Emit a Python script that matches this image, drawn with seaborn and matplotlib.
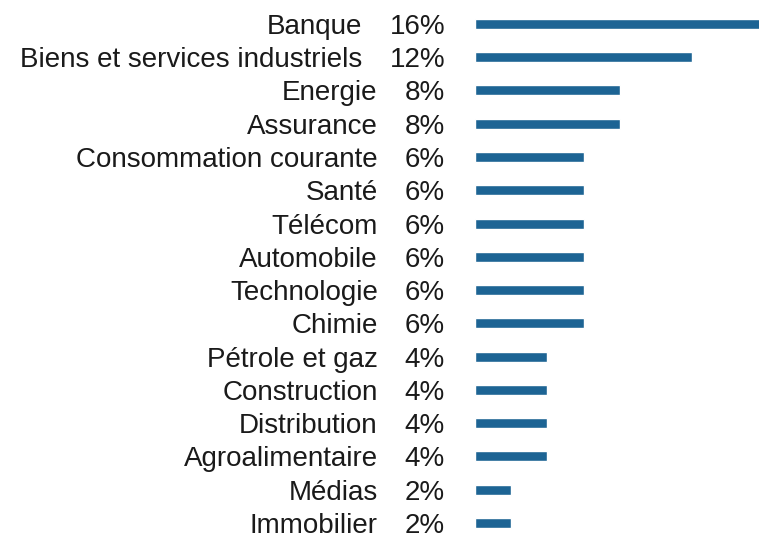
import matplotlib
matplotlib.use("Agg")
import matplotlib.pyplot as plt
import matplotlib.transforms as mtransforms
import seaborn as sns
import pandas as pd

categories = ["Banque", "Biens et services industriels", "Energie", "Assurance",
              "Consommation courante", "Santé", "Télécom", "Automobile",
              "Technologie", "Chimie", "Pétrole et gaz", "Construction",
              "Distribution", "Agroalimentaire", "Médias", "Immobilier"]
values = [16, 12, 8, 8, 6, 6, 6, 6, 6, 6, 4, 4, 4, 4, 2, 2]
value_labels = ["16%", "12%", "8%", "8%", "6%", "6%", "6%", "6%", "6%", "6%",
                "4%", "4%", "4%", "4%", "2%", "2%"]

sns.set_style("white")
plt.rcParams['font.family'] = ['Liberation Sans', 'DejaVu Sans']

df = pd.DataFrame({"cat": categories, "val": values})

fig = plt.figure(figsize=(7.59, 5.38), dpi=100)
ax = fig.add_axes([475 / 759, -1.6 / 538, 1 - 475 / 759, 532.3 / 538])
sns.barplot(data=df, x="val", y="cat", orient="h", color="#1d6494",
            saturation=1, width=0.3, ax=ax)
ax.set_xlim(0, 15.69)
ax.set_ylim(15.5, -0.5)
ax.axis("off")

fs = 20
trans = mtransforms.blended_transform_factory(fig.transFigure, ax.transData)
for i, (c, v) in enumerate(zip(categories, value_labels)):
    t = ax.text(445 / 759, i, v, transform=trans, ha="right", va="center_baseline",
                fontsize=fs, color="#1a1a1a")
    ax.annotate(c, xy=(0, 0.5), xycoords=t, xytext=(-27, 0),
                textcoords="offset pixels", ha="right", va="center",
                fontsize=fs, color="#1a1a1a")

fig.savefig("out.png", dpi=100)
